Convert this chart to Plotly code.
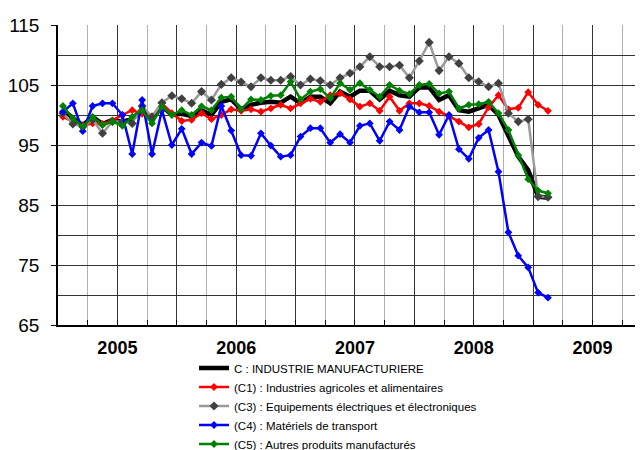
import plotly.graph_objects as go

years = ["2005", "2006", "2007", "2008", "2009"]
n_months = 50  # Jan 2005 .. Feb 2009

C = [100.8, 99.45, 98.3, 99.7, 98.5, 99.2, 98.9, 99.3, 100.95, 99.3, 101.5, 100.0, 100.2, 99.8, 100.8, 100.0,
     102.2, 102.6, 100.95, 101.7, 102.05, 102.2, 102.05, 103.05, 101.95, 103.05, 103.05, 101.95, 103.9, 103.05,
     104.05, 104.05, 102.6, 104.05, 103.3, 103.05, 104.6,
     104.6, 102.5, 103.3, 100.8, 100.55, 101.1, 101.7, 100.0, 96.7, 93.05, 90.8, 86.4, 86.2]
C1 = [99.7, 98.9, 98.3, 98.6, 98.5, 99.1, 100.0, 100.8, 100.2, 99.7, 101.95, 100.3, 99.0, 99.2, 100.3, 99.3,
      100.0, 100.95, 100.7, 100.95, 100.55, 101.1, 101.7, 101.1, 101.95, 102.7, 102.2, 103.3, 103.6, 102.6,
      101.4, 101.95, 100.7, 103.05, 100.7, 101.95, 101.95,
      101.5, 100.55, 99.8, 98.9, 97.95, 98.5, 101.3, 103.3, 100.95, 101.2, 103.8, 101.7, 100.7]
C3 = [100.3, 98.5, 98.05, 99.2, 96.95, 98.9, 98.9, 98.6, 101.5, 99.7, 102.05, 103.2, 102.7, 101.95, 103.9, 102.5,
      105.1, 106.2, 105.5, 104.7, 106.2, 105.8, 105.8, 106.4, 105.0, 106.0, 105.7, 105.0, 106.2, 106.95,
      108.05, 109.7, 108.05, 108.05, 108.3, 106.2, 109.0,
      112.1, 107.4, 109.7, 108.6, 106.2, 105.55, 104.7, 105.3, 100.3, 98.9, 99.3, 86.4, 86.3]
C4 = [100.55, 101.95, 97.3, 101.5, 101.95, 101.95, 100.0, 93.5, 102.5, 93.5, 100.8, 95.0, 97.7, 93.5, 95.4, 94.85,
      101.5, 97.4, 93.3, 93.2, 96.95, 94.9, 93.05, 93.3, 96.4, 97.8, 97.8, 95.4, 96.8, 95.4,
      98.2, 98.6, 95.7, 98.9, 97.5, 101.4, 100.45,
      100.45, 96.7, 100.0, 94.3, 92.7, 96.2, 97.5, 90.55, 80.45, 76.55, 74.6, 70.4, 69.55]
C5 = [101.5, 99.45, 98.05, 99.7, 98.3, 98.9, 98.2, 99.7, 100.8, 98.6, 101.4, 100.0, 100.8, 100.0, 101.45, 100.8,
      102.9, 103.05, 100.95, 102.6, 102.5, 103.2, 103.3, 105.55, 102.6, 103.9, 104.3, 102.8, 105.3, 104.2,
      105.3, 104.2, 103.05, 105.0, 104.05, 103.5, 105.0,
      105.2, 103.6, 103.9, 101.1, 101.7, 101.8, 102.2, 100.3, 97.5, 93.3, 89.3, 87.4, 86.95]

names = ["C : INDUSTRIE MANUFACTURIERE",
         "(C1) : Industries agricoles et alimentaires",
         "(C3) : Equipements électriques et électroniques",
         "(C4) : Matériels de transport",
         "(C5) : Autres produits manufacturés"]

x = list(range(n_months))

fig = go.Figure()
fig.add_trace(go.Scatter(x=x, y=C, name=names[0], mode="lines",
                         line=dict(color="#000000", width=4.5)))
fig.add_trace(go.Scatter(x=x, y=C1, name=names[1], mode="lines+markers",
                         line=dict(color="#FF0000", width=2.5),
                         marker=dict(symbol="diamond", size=6, color="#FF0000")))
fig.add_trace(go.Scatter(x=x, y=C3, name=names[2], mode="lines+markers",
                         line=dict(color="#9a9a9a", width=2.5),
                         marker=dict(symbol="diamond", size=7, color="#404040")))
fig.add_trace(go.Scatter(x=x, y=C4, name=names[3], mode="lines+markers",
                         line=dict(color="#0000FF", width=2.5),
                         marker=dict(symbol="diamond", size=6, color="#0000FF")))
fig.add_trace(go.Scatter(x=x, y=C5, name=names[4], mode="lines+markers",
                         line=dict(color="#008000", width=2.5),
                         marker=dict(symbol="diamond", size=6, color="#008000")))

tickvals = [-0.5 + 6 * k for k in range(11)]
ticktext = []
for k in range(11):
    if k % 2 == 1 and (k // 2) < len(years):
        ticktext.append(years[k // 2])
    else:
        ticktext.append("")

fig.update_layout(
    width=643, height=450,
    margin=dict(l=50, r=8, t=17, b=133, autoexpand=False),
    paper_bgcolor="white", plot_bgcolor="white",
    font=dict(family="Liberation Sans, Arial, sans-serif", color="#000000"),
    showlegend=True,
    legend=dict(x=0.2325, y=-0.095, xanchor="left", yanchor="top",
                font=dict(family="Liberation Sans, Arial", size=11.5),
                tracegroupgap=0, itemwidth=30, bgcolor="rgba(0,0,0,0)"),
    xaxis=dict(range=[-0.5, 58.6], tickmode="array", tickvals=tickvals, ticktext=ticktext,
               showgrid=True, gridcolor="#333333", gridwidth=1,
               ticks="inside", ticklen=5, tickcolor="#000000",
               tickfont=dict(size=18, weight="bold"), ticklabelstandoff=6,
               showline=True, linecolor="#000000", linewidth=1.5, zeroline=False,
               minor=dict(tick0=-0.5, dtick=3, showgrid=True, gridcolor="#b0b0b0",
                          ticks="inside", ticklen=5, tickcolor="#000000")),
    yaxis=dict(range=[65, 115], tick0=65, dtick=10,
               showgrid=True, gridcolor="#333333", gridwidth=1,
               ticks="outside", ticklen=5, tickcolor="#000000",
               tickfont=dict(size=19), ticklabelstandoff=8,
               showline=True, linecolor="#000000", linewidth=1.5, zeroline=False,
               minor=dict(tick0=65, dtick=5, showgrid=True, gridcolor="#333333")),
)

fig.write_html("out.html")
